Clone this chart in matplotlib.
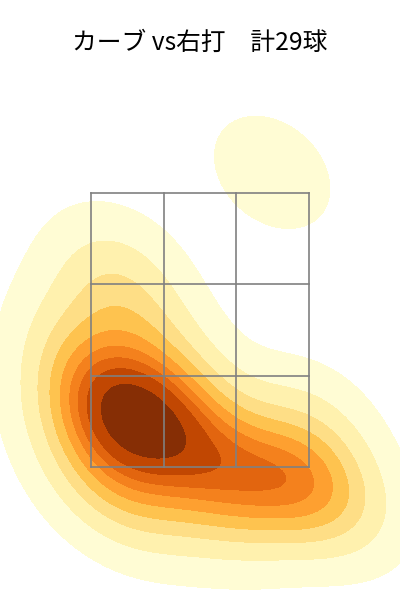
import matplotlib
matplotlib.use("Agg")
import matplotlib.pyplot as plt
import seaborn as sns
import numpy as np

# pitch locations (ft), curve vs right-handed batters
plate_x = [-0.76, -0.69, -0.61, -0.50, -0.42, -0.34, -0.55, -0.29,
           0.00, 0.19, 0.38, 0.53, 0.69, 0.76, 0.91,
           -0.15, -0.95, -0.80,
           -0.72, -0.38, -0.95, -0.61,
           -0.38, 0.15, -0.65, 1.10, 0.55, 0.84, 0.00]
plate_z = [2.10, 1.99, 1.88, 2.03, 1.84, 1.70, 1.73, 1.81,
           1.51, 1.41, 1.48, 1.37, 1.44, 1.32, 1.48,
           2.10, 1.84, 1.51,
           2.72, 2.50, 2.39, 2.97,
           1.22, 1.15, 1.30, 1.22, 3.65, 1.84, 1.84]

zone_x = [-0.83, -0.83 + 1.66 / 3, -0.83 + 2 * 1.66 / 3, 0.83]
zone_z = [1.5, 1.5 + 2.0 / 3, 1.5 + 4.0 / 3, 3.5]

title = "カーブ vs右打　計29球"

plt.rcParams['font.family'] = ['Noto Sans CJK JP', 'DejaVu Sans']

fig = plt.figure(figsize=(4, 6), dpi=100)
ax = fig.add_axes([0, 0, 1, 0.9])

sns.kdeplot(x=plate_x, y=plate_z, fill=True, cmap='YlOrBr', levels=10,
            thresh=0.05, ax=ax)

# strike zone grid
for xv in zone_x:
    ax.plot([xv, xv], [zone_z[0], zone_z[-1]], color='gray', lw=1.2)
for zv in zone_z:
    ax.plot([zone_x[0], zone_x[-1]], [zv, zv], color='gray', lw=1.2)

ax.set_xlim(-1.523, 1.523)
ax.set_ylim(0.53, 4.47)
ax.axis('off')

fig.text(0.5, 1 - 43 / 600, title, ha='center', va='center', fontsize=17.8)

fig.savefig('out.png', dpi=100)
